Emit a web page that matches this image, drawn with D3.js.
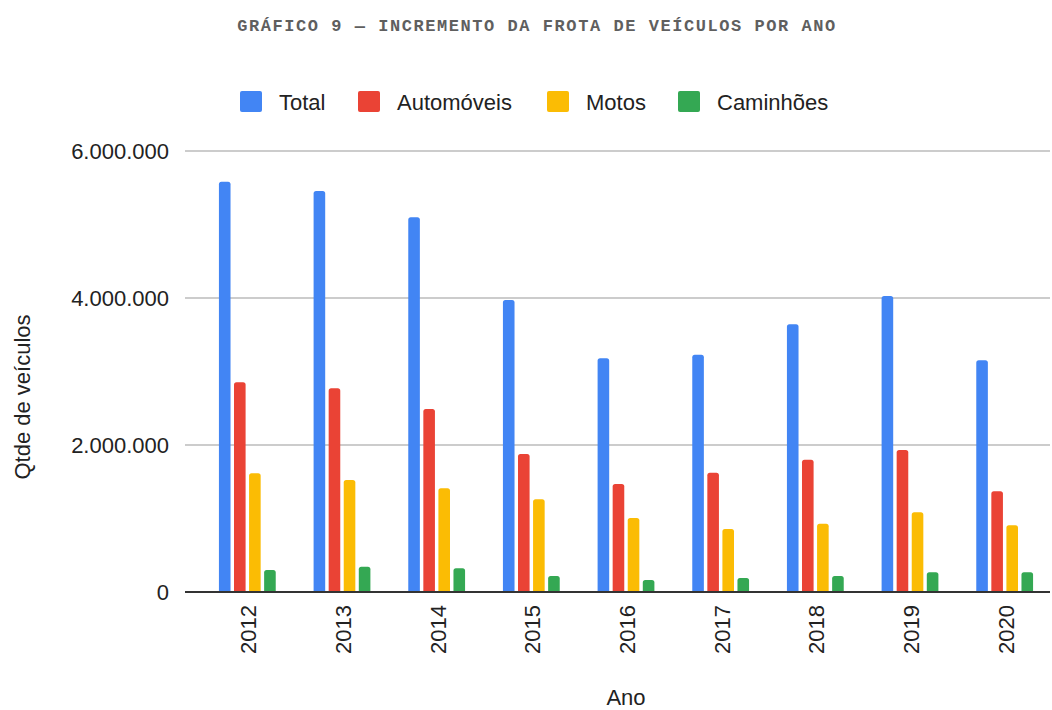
<!DOCTYPE html>
<html lang="pt-BR">
<head>
  <meta charset="UTF-8">
  <title>Incremento da frota de veículos por ano</title>
  <style>
    body { margin: 0; background: #fff; }
    svg { display: block; }
    .title {
      font-family: "Liberation Mono", "DejaVu Sans Mono", monospace;
      font-size: 17px;
      font-weight: bold;
      letter-spacing: 1.55px;
      fill: #5f5f5f;
    }
    .lbl {
      font-family: "Liberation Sans", Arial, sans-serif;
      font-size: 22px;
      fill: #222;
    }
    .grid line { stroke: #ccc; stroke-width: 2px; }
  </style>
</head>
<body>
  <svg id="chart" width="1052" height="710"></svg>
  <script src="https://d3js.org/d3.v7.min.js"></script>
  <script>
    // data
    const years = ["2012", "2013", "2014", "2015", "2016", "2017", "2018", "2019", "2020"];
    const seriesNames = ["Total", "Automóveis", "Motos", "Caminhões"];
    const colors = ["#4285f4", "#ea4335", "#fbbc04", "#34a853"];

    const total      = [5582000, 5456000, 5098000, 3973000, 3179000, 3229000, 3642000, 4027000, 3152000];
    const automoveis = [2853000, 2771000, 2490000, 1877000, 1469000, 1623000, 1800000, 1932000, 1370000];
    const motos      = [1615000, 1524000, 1410000, 1261000, 1007000,  857000,  929000, 1084000,  907000];
    const caminhoes  = [ 300000,  345000,  322000,  218000,  163000,  190000,  218000,  268000,  268000];

    const yTicks = [0, 2000000, 4000000, 6000000];

    const series = [total, automoveis, motos, caminhoes];

    const svg = d3.select("#chart");

    const ptBR = d3.formatLocale({ decimal: ",", thousands: ".", grouping: [3], currency: ["R$", ""] });
    const fmt = ptBR.format(",d");

    const x = d3.scaleBand().domain(years).range([200, 1052]);
    const groupW = x.bandwidth() * 0.6;
    const xInner = d3.scaleBand().domain(d3.range(seriesNames.length))
      .range([0, groupW]).paddingInner(0.23);
    const y = d3.scaleLinear().domain([0, 6000000]).range([592, 151]);

    // title
    svg.append("text")
      .attr("class", "title")
      .attr("x", 537).attr("y", 31)
      .attr("text-anchor", "middle")
      .text("GRÁFICO 9 — INCREMENTO DA FROTA DE VEÍCULOS POR ANO");

    // legend
    const legendX = [240, 358, 547, 678];
    const legend = svg.append("g").selectAll("g")
      .data(seriesNames)
      .join("g")
      .attr("transform", (d, i) => `translate(${legendX[i]},91)`);
    legend.append("rect")
      .attr("width", 22).attr("height", 21).attr("rx", 2)
      .attr("fill", (d, i) => colors[i]);
    legend.append("text")
      .attr("class", "lbl")
      .attr("x", 39).attr("y", 18.5)
      .text(d => d);

    // gridlines
    svg.append("g").attr("class", "grid")
      .selectAll("line")
      .data(yTicks.filter(t => t > 0))
      .join("line")
      .attr("x1", 185).attr("x2", 1050)
      .attr("y1", d => y(d)).attr("y2", d => y(d));

    // y tick labels
    svg.append("g").selectAll("text")
      .data(yTicks)
      .join("text")
      .attr("class", "lbl")
      .attr("x", 169)
      .attr("y", d => y(d))
      .attr("dy", "0.36em")
      .attr("text-anchor", "end")
      .text(d => fmt(d));

    // bars with rounded tops
    function barPath(x0, w, yTop, yBase) {
      const r = Math.min(2.5, (yBase - yTop) / 2);
      return `M${x0},${yBase}V${yTop + r}Q${x0},${yTop} ${x0 + r},${yTop}` +
        `H${x0 + w - r}Q${x0 + w},${yTop} ${x0 + w},${yTop + r}V${yBase}Z`;
    }

    const groups = svg.append("g").selectAll("g")
      .data(years)
      .join("g")
      .attr("transform", d => `translate(${x(d) + (x.bandwidth() - groupW) / 2},0)`);

    groups.selectAll("path")
      .data((d, i) => series.map((s, k) => ({ k, v: s[i] })))
      .join("path")
      .attr("fill", d => colors[d.k])
      .attr("d", d => barPath(xInner(d.k), xInner.bandwidth(), y(d.v), y(0)));

    // baseline
    svg.append("line")
      .attr("x1", 185).attr("x2", 1050)
      .attr("y1", y(0)).attr("y2", y(0))
      .attr("stroke", "#333").attr("stroke-width", 2);

    // x labels (rotated)
    svg.append("g").selectAll("text")
      .data(years)
      .join("text")
      .attr("class", "lbl")
      .attr("text-anchor", "end")
      .attr("dy", "0.36em")
      .attr("transform", d => `translate(${x(d) + x.bandwidth() / 2 + 1},605) rotate(-90)`)
      .text(d => d);

    // axis titles
    svg.append("text")
      .attr("class", "lbl")
      .attr("text-anchor", "middle")
      .attr("x", 626).attr("y", 705)
      .text("Ano");

    svg.append("text")
      .attr("class", "lbl")
      .attr("text-anchor", "middle")
      .attr("transform", "translate(30,397) rotate(-90)")
      .text("Qtde de veículos");
  </script>
</body>
</html>
